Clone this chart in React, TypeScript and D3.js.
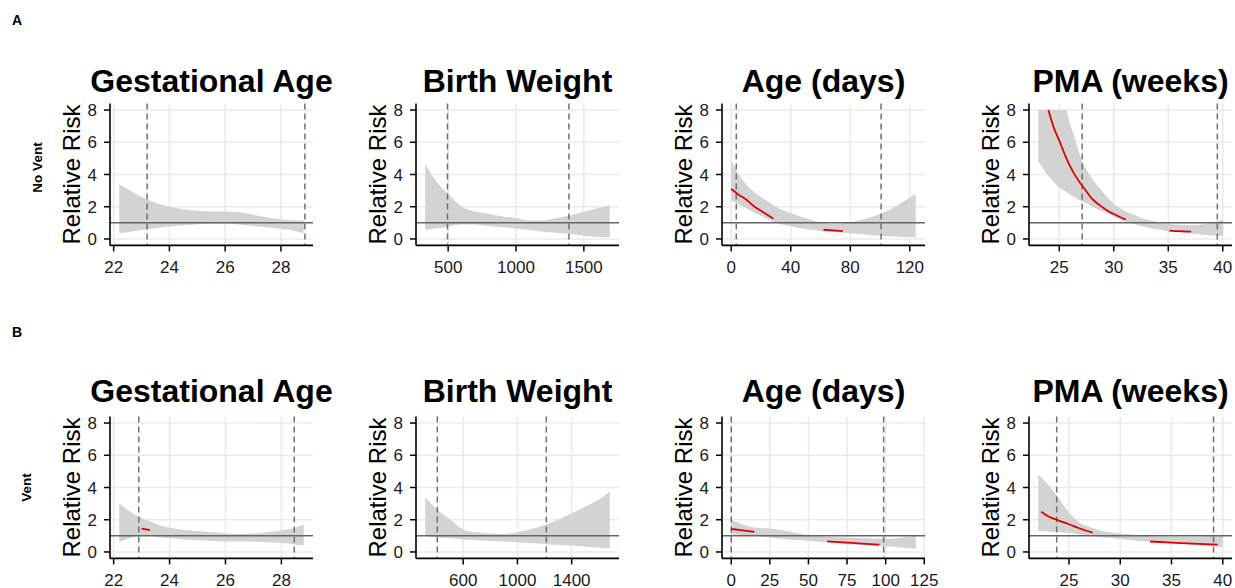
import * as d3 from "d3";

// ---- data ----
const rowLabels = ["No Vent", "Vent"];
const rowTags = ["A", "B"];
const titles = ["Gestational Age", "Birth Weight", "Age (days)", "PMA (weeks)"];

// Row A: no ventilation
const gaNoVentX = [22.2, 22.5, 23, 23.5, 24, 24.5, 25, 25.5, 26, 26.5, 27, 27.5, 28, 28.5, 28.82];
const gaNoVentHi = [3.4, 3.1, 2.6, 2.25, 2.0, 1.85, 1.75, 1.7, 1.7, 1.65, 1.5, 1.35, 1.2, 1.15, 1.15];
const gaNoVentLo = [0.35, 0.42, 0.55, 0.66, 0.77, 0.85, 0.92, 0.95, 0.95, 0.9, 0.8, 0.72, 0.62, 0.5, 0.35];

const bwNoVentX = [331, 400, 450, 500, 550, 600, 700, 800, 900, 1000, 1100, 1200, 1300, 1400, 1500, 1600, 1691];
const bwNoVentHi = [4.65, 3.7, 3.2, 2.8, 2.35, 2.0, 1.7, 1.55, 1.4, 1.3, 1.15, 1.15, 1.3, 1.45, 1.7, 1.9, 2.1];
const bwNoVentLo = [0.55, 0.65, 0.7, 0.78, 0.85, 0.9, 0.9, 0.8, 0.72, 0.65, 0.55, 0.45, 0.38, 0.3, 0.2, 0.12, 0.1];

const ageNoVentX = [0, 5, 10, 15, 20, 25, 30, 40, 50, 60, 65, 70, 75, 80, 90, 100, 110, 124];
const ageNoVentHi = [4.9, 4.0, 3.4, 2.95, 2.6, 2.3, 2.0, 1.6, 1.3, 1.02, 0.95, 0.93, 0.96, 1.03, 1.25, 1.55, 2.0, 2.8];
const ageNoVentLo = [2.4, 2.15, 1.9, 1.65, 1.42, 1.2, 1.0, 0.78, 0.62, 0.5, 0.46, 0.42, 0.38, 0.35, 0.28, 0.2, 0.15, 0.1];
const ageNoVentSig1X = [0, 5, 10, 15, 20, 25, 28.4];
const ageNoVentSig1Y = [3.1, 2.75, 2.45, 2.05, 1.75, 1.45, 1.25];
const ageNoVentSig2X = [62, 68, 75];
const ageNoVentSig2Y = [0.57, 0.53, 0.49];

const pmaNoVentX = [23.07, 24, 25, 25.6, 26, 26.5, 27, 27.5, 28, 29, 30, 31, 32, 33, 34, 35, 36, 37, 38, 39, 40];
const pmaNoVentHi = [8, 8, 8, 8, 7.1, 6.1, 5.0, 4.3, 3.75, 2.9, 2.2, 1.75, 1.45, 1.2, 1.05, 0.95, 0.88, 0.85, 0.9, 1.0, 1.2];
const pmaNoVentLo = [4.8, 3.9, 3.2, 2.95, 2.75, 2.55, 2.35, 2.2, 2.0, 1.7, 1.4, 1.1, 0.9, 0.72, 0.58, 0.48, 0.4, 0.34, 0.28, 0.22, 0.18];
const pmaNoVentSig1X = [24, 24.5, 25, 25.5, 26, 26.5, 27, 27.5, 28, 28.5, 29, 29.5, 30, 30.5, 31.1];
const pmaNoVentSig1Y = [8, 6.9, 6.1, 5.25, 4.5, 3.9, 3.4, 2.95, 2.5, 2.2, 1.95, 1.72, 1.55, 1.38, 1.2];
const pmaNoVentSig2X = [35.1, 36, 37.1];
const pmaNoVentSig2Y = [0.52, 0.48, 0.45];

// Row B: ventilated
const gaVentX = [22.2, 22.5, 23, 23.3, 23.5, 24, 24.5, 25, 25.5, 26, 26.5, 27, 27.5, 28, 28.5, 28.8];
const gaVentHi = [3.0, 2.6, 2.1, 1.9, 1.75, 1.5, 1.38, 1.3, 1.22, 1.15, 1.12, 1.15, 1.22, 1.35, 1.5, 1.7];
const gaVentLo = [0.6, 0.8, 1.02, 1.0, 0.95, 0.85, 0.78, 0.72, 0.68, 0.65, 0.65, 0.63, 0.6, 0.55, 0.47, 0.4];
const gaVentSig1X = [23.0, 23.15, 23.3];
const gaVentSig1Y = [1.45, 1.4, 1.36];

const bwVentX = [320, 400, 450, 500, 600, 700, 800, 900, 1000, 1100, 1200, 1300, 1400, 1500, 1600, 1681];
const bwVentHi = [3.4, 2.7, 2.35, 2.05, 1.4, 1.22, 1.15, 1.12, 1.22, 1.42, 1.68, 2.0, 2.4, 2.8, 3.25, 3.75];
const bwVentLo = [0.98, 0.92, 0.88, 0.85, 0.78, 0.72, 0.68, 0.65, 0.6, 0.55, 0.5, 0.45, 0.4, 0.33, 0.27, 0.22];

const ageVentX = [0, 5, 10, 15, 20, 25, 30, 40, 50, 62, 75, 87, 100, 110, 119.5];
const ageVentHi = [2.0, 1.8, 1.62, 1.52, 1.48, 1.45, 1.4, 1.22, 1.02, 0.95, 0.9, 0.85, 0.82, 0.88, 1.0];
const ageVentLo = [1.1, 1.06, 1.03, 1.0, 0.96, 0.9, 0.85, 0.76, 0.7, 0.6, 0.5, 0.42, 0.35, 0.28, 0.2];
const ageVentSig1X = [0, 5, 10, 15];
const ageVentSig1Y = [1.43, 1.37, 1.31, 1.25];
const ageVentSig2X = [62, 75, 87, 96];
const ageVentSig2Y = [0.66, 0.58, 0.5, 0.45];

const pmaVentX = [22.0, 23, 24, 25, 26, 27, 28, 29, 30, 31, 32, 33, 34, 35, 36, 37, 38, 39, 40];
const pmaVentHi = [4.8, 4.15, 3.35, 2.45, 1.85, 1.55, 1.35, 1.22, 1.14, 1.08, 1.02, 0.98, 0.96, 0.94, 0.93, 0.93, 0.94, 0.97, 1.02];
const pmaVentLo = [1.3, 1.27, 1.22, 1.17, 1.1, 1.02, 0.93, 0.86, 0.8, 0.74, 0.68, 0.63, 0.58, 0.55, 0.5, 0.46, 0.42, 0.36, 0.3];
const pmaVentSig1X = [22.3, 23, 24, 25, 26, 27.3];
const pmaVentSig1Y = [2.5, 2.2, 1.95, 1.72, 1.47, 1.2];
const pmaVentSig2X = [32.9, 35, 37, 39.5];
const pmaVentSig2Y = [0.65, 0.58, 0.52, 0.45];

// dashed reference lines
const vlinesNoVent = [[23.2, 28.86], [495, 1390], [3.4, 100.7], [27.1, 39.5]];
const vlinesVent = [[22.9, 28.46], [409, 1213], [0, 98.7], [23.8, 39.1]];

const xTicksNoVent = [[22, 24, 26, 28], [500, 1000, 1500], [0, 40, 80, 120], [25, 30, 35, 40]];
const xTicksVent = [[22, 24, 26, 28], [600, 1000, 1400], [0, 25, 50, 75, 100, 125], [25, 30, 35, 40]];
const yTicks = [0, 2, 4, 6, 8];

type Seg = [number[], number[]];
type Panel = { x: number[]; hi: number[]; lo: number[]; sig: Seg[] };

const rows: Panel[][] = [
  [
    { x: gaNoVentX, hi: gaNoVentHi, lo: gaNoVentLo, sig: [] },
    { x: bwNoVentX, hi: bwNoVentHi, lo: bwNoVentLo, sig: [] },
    { x: ageNoVentX, hi: ageNoVentHi, lo: ageNoVentLo, sig: [[ageNoVentSig1X, ageNoVentSig1Y], [ageNoVentSig2X, ageNoVentSig2Y]] },
    { x: pmaNoVentX, hi: pmaNoVentHi, lo: pmaNoVentLo, sig: [[pmaNoVentSig1X, pmaNoVentSig1Y], [pmaNoVentSig2X, pmaNoVentSig2Y]] },
  ],
  [
    { x: gaVentX, hi: gaVentHi, lo: gaVentLo, sig: [[gaVentSig1X, gaVentSig1Y]] },
    { x: bwVentX, hi: bwVentHi, lo: bwVentLo, sig: [] },
    { x: ageVentX, hi: ageVentHi, lo: ageVentLo, sig: [[ageVentSig1X, ageVentSig1Y], [ageVentSig2X, ageVentSig2Y]] },
    { x: pmaVentX, hi: pmaVentHi, lo: pmaVentLo, sig: [[pmaVentSig1X, pmaVentSig1Y], [pmaVentSig2X, pmaVentSig2Y]] },
  ],
];
const rowVlines = [vlinesNoVent, vlinesVent];
const rowTicks = [xTicksNoVent, xTicksVent];

// ---- layout ----
const W = 1235;
const H = 588;
const colLeft = [110, 416, 722, 1029];
const panelW = 203;
const rowTop = [103.6, 416.6];
const panelH = 141.8;
const titleY = [92, 402];
const FONT = "'Liberation Sans', Arial, Helvetica, sans-serif";

function expand(ext: number[]) {
  const pad = (ext[1] - ext[0]) * 0.05;
  return [ext[0] - pad, ext[1] + pad];
}

function PanelView({ p, left, top, title, ticks, vlines, titleBase }: any) {
  const x = d3.scaleLinear().domain(expand(d3.extent(p.x) as number[])).range([left, left + panelW]);
  const y = d3.scaleLinear().domain(expand([0, 8])).range([top + panelH, top]);
  const bottom = top + panelH;
  const right = left + panelW;
  const idx = d3.range(p.x.length);
  const area = d3
    .area<number>()
    .x((i) => x(p.x[i]))
    .y0((i) => y(Math.min(8, p.lo[i])))
    .y1((i) => y(Math.min(8, p.hi[i])))
    .curve(d3.curveMonotoneX);
  const line = d3
    .line<[number, number]>()
    .x((d) => x(d[0]))
    .y((d) => y(d[1]))
    .curve(d3.curveMonotoneX);

  return (
    <g>
      <text x={left + panelW / 2} y={titleBase} textAnchor="middle" fontSize={32} fontWeight="bold" fontFamily={FONT} fill="#000">
        {title}
      </text>
      {/* grid */}
      {yTicks.map((t) => (
        <line key={"gy" + t} x1={left} x2={right} y1={y(t)} y2={y(t)} stroke="#ebebeb" strokeWidth={1.6} />
      ))}
      {ticks.map((t: number) => (
        <line key={"gx" + t} x1={x(t)} x2={x(t)} y1={top} y2={bottom} stroke="#ebebeb" strokeWidth={1.6} />
      ))}
      {/* confidence ribbon */}
      <path d={area(idx) || ""} fill="#d3d3d3" />
      {/* reference lines */}
      {vlines.map((v: number) => (
        <line key={"v" + v} x1={x(v)} x2={x(v)} y1={top} y2={bottom} stroke="#707070" strokeWidth={1.5} strokeDasharray="6,4" />
      ))}
      <line x1={left} x2={right} y1={y(1)} y2={y(1)} stroke="#666" strokeWidth={1.5} />
      {/* significant estimate */}
      {p.sig.map((s: Seg, k: number) => (
        <path key={"s" + k} d={line(s[0].map((v, i) => [v, s[1][i]] as [number, number])) || ""} fill="none" stroke="#e00000" strokeWidth={1.8} />
      ))}
      {/* axes */}
      <line x1={left} x2={left} y1={top} y2={bottom} stroke="#000" strokeWidth={1.6} />
      <line x1={left} x2={right} y1={bottom} y2={bottom} stroke="#000" strokeWidth={1.6} />
      {yTicks.map((t) => (
        <g key={"ty" + t}>
          <line x1={left - 6} x2={left} y1={y(t)} y2={y(t)} stroke="#000" strokeWidth={1.5} />
          <text x={left - 13} y={y(t)} dy="0.36em" textAnchor="end" fontSize={17} fontFamily={FONT} fill="#1a1a1a">
            {t}
          </text>
        </g>
      ))}
      {ticks.map((t: number) => (
        <g key={"tx" + t}>
          <line x1={x(t)} x2={x(t)} y1={bottom} y2={bottom + 6} stroke="#000" strokeWidth={1.5} />
          <text x={x(t)} y={bottom + 27.5} textAnchor="middle" fontSize={17} fontFamily={FONT} fill="#1a1a1a">
            {t}
          </text>
        </g>
      ))}
      <text
        transform={`translate(${left - 30},${top + panelH / 2}) rotate(-90)`}
        textAnchor="middle"
        fontSize={24}
        fontFamily={FONT}
        fill="#000"
      >
        Relative Risk
      </text>
    </g>
  );
}

export default function App() {
  return (
    <svg width={W} height={H} style={{ position: "absolute", left: 0, top: 0, background: "#fff" }}>
      <rect width={W} height={H} fill="#fff" />
      <text x={12} y={25} fontSize={14} fontWeight="bold" fontFamily={FONT}>{rowTags[0]}</text>
      <text x={12} y={337} fontSize={14} fontWeight="bold" fontFamily={FONT}>{rowTags[1]}</text>
      <text transform={`translate(42,${rowTop[0] + panelH / 2 - 7}) rotate(-90)`} textAnchor="middle" fontSize={13.5} fontWeight="bold" fontFamily={FONT}>
        {rowLabels[0]}
      </text>
      <text transform={`translate(31,${rowTop[1] + panelH / 2}) rotate(-90)`} textAnchor="middle" fontSize={13.5} fontWeight="bold" fontFamily={FONT}>
        {rowLabels[1]}
      </text>
      {rows.map((row, r) =>
        row.map((p, c) => (
          <PanelView
            key={r + "-" + c}
            p={p}
            left={colLeft[c]}
            top={rowTop[r]}
            title={titles[c]}
            ticks={rowTicks[r][c]}
            vlines={rowVlines[r][c]}
            titleBase={titleY[r]}
          />
        ))
      )}
    </svg>
  );
}
